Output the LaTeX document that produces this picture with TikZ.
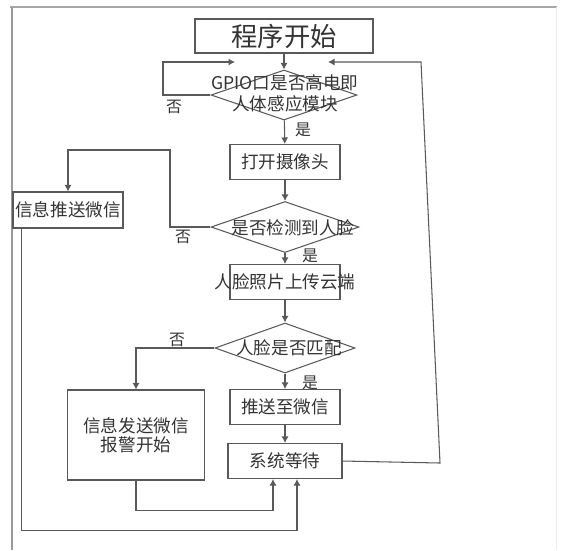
\documentclass[tikz,border=0pt]{standalone}
\usepackage{fontspec}
\setmainfont{Noto Sans CJK SC}
\usetikzlibrary{arrows.meta,shapes.geometric}
\newcommand{\nowd}[1]{\makebox[0pt]{#1}}

\begin{document}
\begin{tikzpicture}[x=0.2mm,y=-0.2mm,
    line/.style={draw=black!65,line width=0.6pt},
    flow/.style={line,-{Latex[length=1.3mm,width=1.4mm]}},
    proc/.style={line,rectangle,inner sep=0pt,text=black!80,font=\fontsize{10}{11}\selectfont},
    cond/.style={line,diamond,inner sep=0pt},
    txt/.style={text=black!80,align=center,font=\fontsize{10}{12}\selectfont},
    tag/.style={text=black!80,font=\fontsize{9}{10}\selectfont}]
        \useasboundingbox (0,0) rectangle (570,550);

        % frame of the page
        \draw[black!35,line width=0.6pt] (10,7) -- (557,7);
        \draw[black!40,line width=1.2pt] (12,7) -- (12,550);
        \draw[black!8] (556,7) -- (556,550);

        \node[proc,minimum width=35.6mm,minimum height=6.8mm,font=\fontsize{15}{18}\selectfont] (start) at (284,36) {程序开始};
        \node[cond,minimum width=29.2mm,minimum height=10mm] (gpio) at (284,95) {};
        \node[txt] (gpiotxt) at (285,93) {\nowd{GPIO口是否高电即}\\\nowd{人体感应模块}};
        \node[proc,minimum width=22mm,minimum height=7mm] (cam) at (285,162) {打开摄像头};
        \node[cond,minimum width=29.6mm,minimum height=10.2mm] (face) at (285,227) {};
        \node[txt] (facetxt) at (293,228) {\nowd{是否检测到人脸}};
        \node[proc,minimum width=22mm,minimum height=7mm] (upload) at (285,282) {\nowd{人脸照片上传云端}};
        \node[cond,minimum width=28mm,minimum height=10mm] (match) at (285,348) {};
        \node[txt] (matchtxt) at (289,348) {人脸是否匹配};
        \node[proc,minimum width=22mm,minimum height=7mm] (push) at (285,407) {推送至微信};
        \node[proc,minimum width=22.8mm,minimum height=7mm] (wait) at (285,461) {系统等待};
        \node[proc,minimum width=22mm,minimum height=7.2mm] (info) at (68,210) {\nowd{信息推送微信}};
        \node[proc,minimum width=27.4mm,minimum height=18mm,align=center] (alarm) at (136,435) {信息发送微信\\报警开始};

        \coordinate (loopin) at (235,62);
        \coordinate (backin) at (328,62);

        % main column
        \draw[flow] (start) -- (gpio);
        \draw[flow] (gpio) -- (cam);
        \draw[flow] (cam) -- (face);
        \draw[flow] (face) -- (upload);
        \draw[flow] (upload) -- (match);
        \draw[flow] (match) -- (push);
        \draw[flow] (push) -- (wait);

        % branches
        \draw[flow] (gpio.west) -- (163,95) |- (loopin);
        \draw[flow] (face.west) -- (170,227) |- (68,150) -- (info.north);
        \draw[flow] (match.west) -| (alarm.north);
        \draw[flow] (alarm.south) |- ([xshift=-2.4mm,yshift=-6.2mm]wait.south) -- ([xshift=-2.4mm]wait.south);
        \draw[flow] ([xshift=1.8mm]info.south west) |- ([xshift=2.4mm,yshift=-10.2mm]wait.south) -- ([xshift=2.4mm]wait.south);
        \draw[flow] (wait.east) -- (440,463) -- (421,62) -- (backin);

        \node[tag] (yes1) at (303,130) {是};
        \node[tag] (no1) at (174,107) {否};
        \node[tag] (yes2) at (310,256) {是};
        \node[tag] (no2) at (183,237) {否};
        \node[tag] (yes3) at (310,383) {是};
        \node[tag] (no3) at (177,340) {否};
      \end{tikzpicture}
\end{document}
